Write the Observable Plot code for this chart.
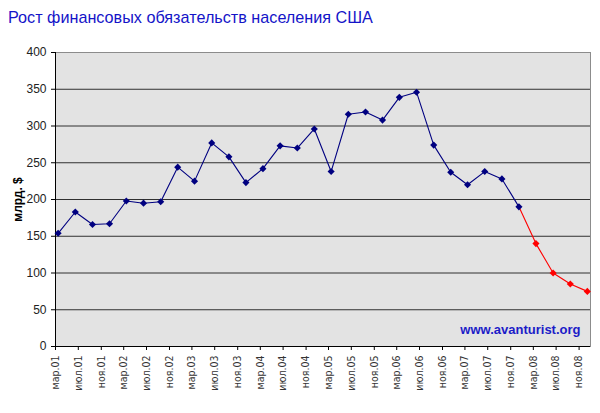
<!DOCTYPE html>
<html><head><meta charset="utf-8">
<script src="https://cdn.jsdelivr.net/npm/d3@7"></script>
<script src="https://cdn.jsdelivr.net/npm/@observablehq/plot@0.6"></script>
<style>
body{margin:0;background:#fff;width:600px;height:413px;overflow:hidden;font-family:"Liberation Sans",Arial,sans-serif;}
#title{height:32px;box-sizing:border-box;padding:7px 0 0 8px;font-size:16.2px;color:#1414c8;line-height:20px;white-space:nowrap;}
svg [aria-label="y-axis label"] text{font-weight:bold;font-size:12px;fill:#000;}
svg [aria-label="x-axis tick label"] text{font-family:"Liberation Sans Narrow","DejaVu Sans Condensed",sans-serif;fill:#333;}
</style></head><body>
<div id="title">Рост финансовых обязательств населения США</div>
<div id="chart"></div>
<script>
const quarters = ["2001-03","2001-06","2001-09","2001-12","2002-03","2002-06","2002-09","2002-12",
  "2003-03","2003-06","2003-09","2003-12","2004-03","2004-06","2004-09","2004-12",
  "2005-03","2005-06","2005-09","2005-12","2006-03","2006-06","2006-09","2006-12",
  "2007-03","2007-06","2007-09","2007-12","2008-03","2008-06","2008-09","2008-12"];
const actual = [154,183,166,167,198,195,197,244,225,277,258,223,242,273,270,296,
  238,316,319,308,339,346,274,237,220,238,228,190];
const forecast = [140,100,85,75];
const tickLabels = ["мар.01","июл.01","ноя.01","мар.02","июл.02","ноя.02","мар.03","июл.03","ноя.03",
  "мар.04","июл.04","ноя.04","мар.05","июл.05","ноя.05","мар.06","июл.06","ноя.06",
  "мар.07","июл.07","ноя.07","мар.08","июл.08","ноя.08"];
const yTicks = [0,50,100,150,200,250,300,350,400];
const gridLines = [50,100,150,200,250,300,350];
const watermark = "www.avanturist.org";
const yLabel = "млрд. $";

const monthIdx = {"мар":2,"июл":6,"ноя":10};
const tickDates = tickLabels.map(s => { const [m,y] = s.split("."); return new Date(Date.UTC(2000 + +y, monthIdx[m], 1)); });
const labelMap = new Map(tickDates.map((d,i)=>[+d, tickLabels[i]]));
const qDate = s => { const [y,m] = s.split("-").map(Number); return new Date(Date.UTC(y, m-1, 15)); };
const lastQ = quarters[quarters.length-1].split("-").map(Number);
const xDomain = [tickDates[0], new Date(Date.UTC(lastQ[0], lastQ[1], 1))];

const rowsA = actual.map((v,i)=>({date:qDate(quarters[i]), value:v}));
const rowsF = forecast.map((v,i)=>({date:qDate(quarters[actual.length+i]), value:v}));
const rowsFLine = [rowsA[rowsA.length-1], ...rowsF];

const chart = Plot.plot({
  width:600, height:381, marginTop:20, marginBottom:67, marginLeft:55, marginRight:10,
  style:{fontFamily:'"Liberation Sans",Arial,sans-serif', fontSize:"12px", color:"#222", background:"#fff", overflow:"visible"},
  x:{type:"utc", domain:xDomain},
  y:{domain:[0,400], labelArrow:"none"},
  marks:[
    Plot.frame({fill:"url(#dots)"}),
    Plot.ruleY(gridLines,{stroke:"#303030", strokeWidth:1}),
    Plot.frame({stroke:"#8c8c8c"}),
    Plot.ruleY([0],{stroke:"#000"}),
    Plot.ruleX([xDomain[0]],{stroke:"#000"}),
    Plot.axisY({ticks:yTicks, tickSize:4, tickPadding:5, label:yLabel, labelArrow:"none", labelAnchor:"center", labelOffset:42, fontSize:12, stroke:"#000"}),
    Plot.axisX({ticks:tickDates, tickFormat:d=>labelMap.get(+d), tickRotate:-90, tickSize:4, tickPadding:5, label:null, fontSize:10.5, stroke:"#000"}),
    Plot.line(rowsFLine,{x:"date", y:"value", stroke:"#ff0000", strokeWidth:1.1}),
    Plot.line(rowsA,{x:"date", y:"value", stroke:"#000080", strokeWidth:1.1}),
    Plot.dot(rowsF,{x:"date", y:"value", symbol:"diamond2", r:3.2, fill:"#ff0000"}),
    Plot.dot(rowsA,{x:"date", y:"value", symbol:"diamond2", r:3.2, fill:"#000080"}),
    Plot.text([watermark],{frameAnchor:"bottom-right", dx:-10, dy:-13, fill:"#1c1cc8", fontWeight:"bold", fontSize:13, textAnchor:"end"})
  ]
});
d3.select(chart).selectAll('[aria-label="y-axis label"] text').text(yLabel);
const defs = d3.select(chart).insert("defs", ":first-child");
const pat = defs.append("pattern").attr("id","dots").attr("width",2).attr("height",2).attr("patternUnits","userSpaceOnUse");
pat.append("rect").attr("width",2).attr("height",2).attr("fill","#fafafa");
pat.append("rect").attr("x",0).attr("y",0).attr("width",1).attr("height",1).attr("fill","#cccccc");
pat.append("rect").attr("x",1).attr("y",1).attr("width",1).attr("height",1).attr("fill","#cccccc");
document.getElementById("chart").appendChild(chart);
</script>
</body></html>
